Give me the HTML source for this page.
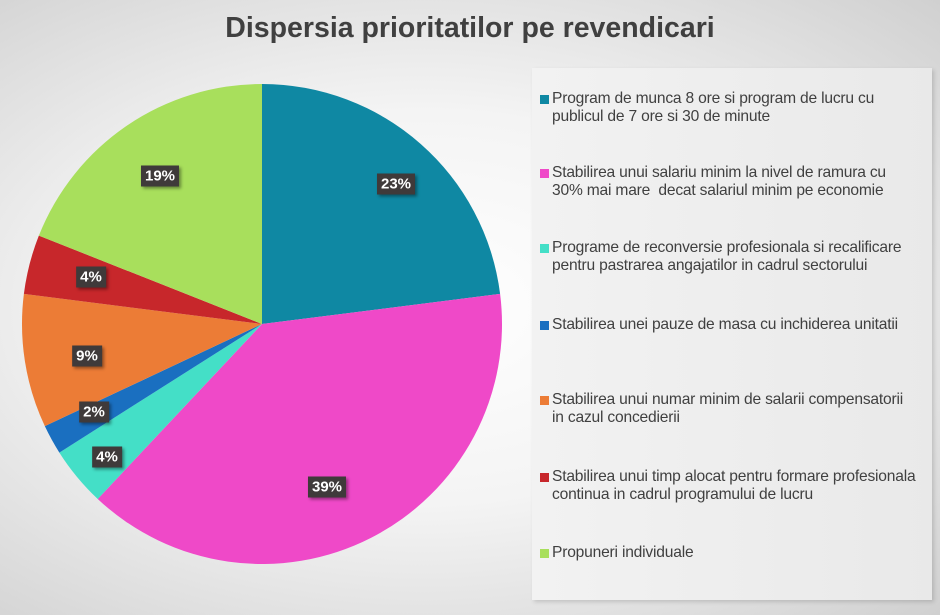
<!DOCTYPE html>
<html><head><meta charset="utf-8"><style>
body{margin:0;width:940px;height:615px;overflow:hidden;background:radial-gradient(ellipse at 45% 50%,#ffffff 0%,#f4f4f4 45%,#d0d0d0 100%);font-family:"Liberation Sans",Arial,sans-serif;position:relative}
.t{position:absolute;top:12px;width:940px;text-align:center;font-size:28.5px;font-weight:bold;color:#404040;left:0}
.leg{position:absolute;left:532px;top:68px;width:400px;height:532px;background:linear-gradient(90deg,#f2f2f2,#e9e9e9);box-shadow:2px 2px 4px rgba(0,0,0,0.15)}
.it{position:absolute;left:20px;font-size:15.6px;line-height:18px;color:#404040;letter-spacing:-0.2px;white-space:nowrap}
.it i{position:absolute;left:-12px;top:5px;width:9px;height:9px}
.lb{position:absolute;background:#3f3a3a;color:#fff;font-weight:bold;font-size:15px;padding:2px 4px;box-shadow:2px 2px 3px rgba(0,0,0,0.4);transform:translate(-50%,-50%)}
</style></head><body>
<div class="t">Dispersia prioritatilor pe revendicari</div>
<svg width="940" height="615" style="position:absolute;left:0;top:0">
<g id="p"></g>
</svg>
<div class="leg">
<div class="it" style="top:22px"><i style="background:#0f88a3"></i>Program de munca 8 ore si program de lucru cu<br>publicul de 7 ore si 30 de minute</div>
<div class="it" style="top:96px"><i style="background:#ef49c8"></i>Stabilirea unui salariu minim la nivel de ramura cu<br>30% mai mare&nbsp; decat salariul minim pe economie</div>
<div class="it" style="top:171px"><i style="background:#44dfc7"></i>Programe de reconversie profesionala si recalificare<br>pentru pastrarea angajatilor in cadrul sectorului</div>
<div class="it" style="top:248px"><i style="background:#1a6fc0"></i>Stabilirea unei pauze de masa cu inchiderea unitatii</div>
<div class="it" style="top:323px"><i style="background:#ec7c36"></i>Stabilirea unui numar minim de salarii compensatorii<br>in cazul concedierii</div>
<div class="it" style="top:400px"><i style="background:#c7272b"></i>Stabilirea unui timp alocat pentru formare profesionala<br>continua in cadrul programului de lucru</div>
<div class="it" style="top:476px"><i style="background:#a8df5c"></i>Propuneri individuale</div>
</div>
<div class="lb" style="left:396px;top:184px">23%</div>
<div class="lb" style="left:160px;top:176px">19%</div>
<div class="lb" style="left:91px;top:277px">4%</div>
<div class="lb" style="left:87px;top:356px">9%</div>
<div class="lb" style="left:94px;top:412px">2%</div>
<div class="lb" style="left:107px;top:457px">4%</div>
<div class="lb" style="left:327px;top:487px">39%</div>
<script>
var d=[[23,"#0f88a3"],[39,"#ef49c8"],[4,"#44dfc7"],[2,"#1a6fc0"],[9,"#ec7c36"],[4,"#c7272b"],[19,"#a8df5c"]];
var cx=262,cy=324,r=240,a=0,s="";
d.forEach(function(e){var b=a+e[0]/100*2*Math.PI;
var x1=cx+r*Math.sin(a),y1=cy-r*Math.cos(a),x2=cx+r*Math.sin(b),y2=cy-r*Math.cos(b);
s+='<path d="M'+cx+','+cy+'L'+x1+','+y1+'A'+r+','+r+' 0 '+(b-a>Math.PI?1:0)+' 1 '+x2+','+y2+'Z" fill="'+e[1]+'"/>';a=b;});
document.getElementById("p").innerHTML=s;
</script>
</body></html>
